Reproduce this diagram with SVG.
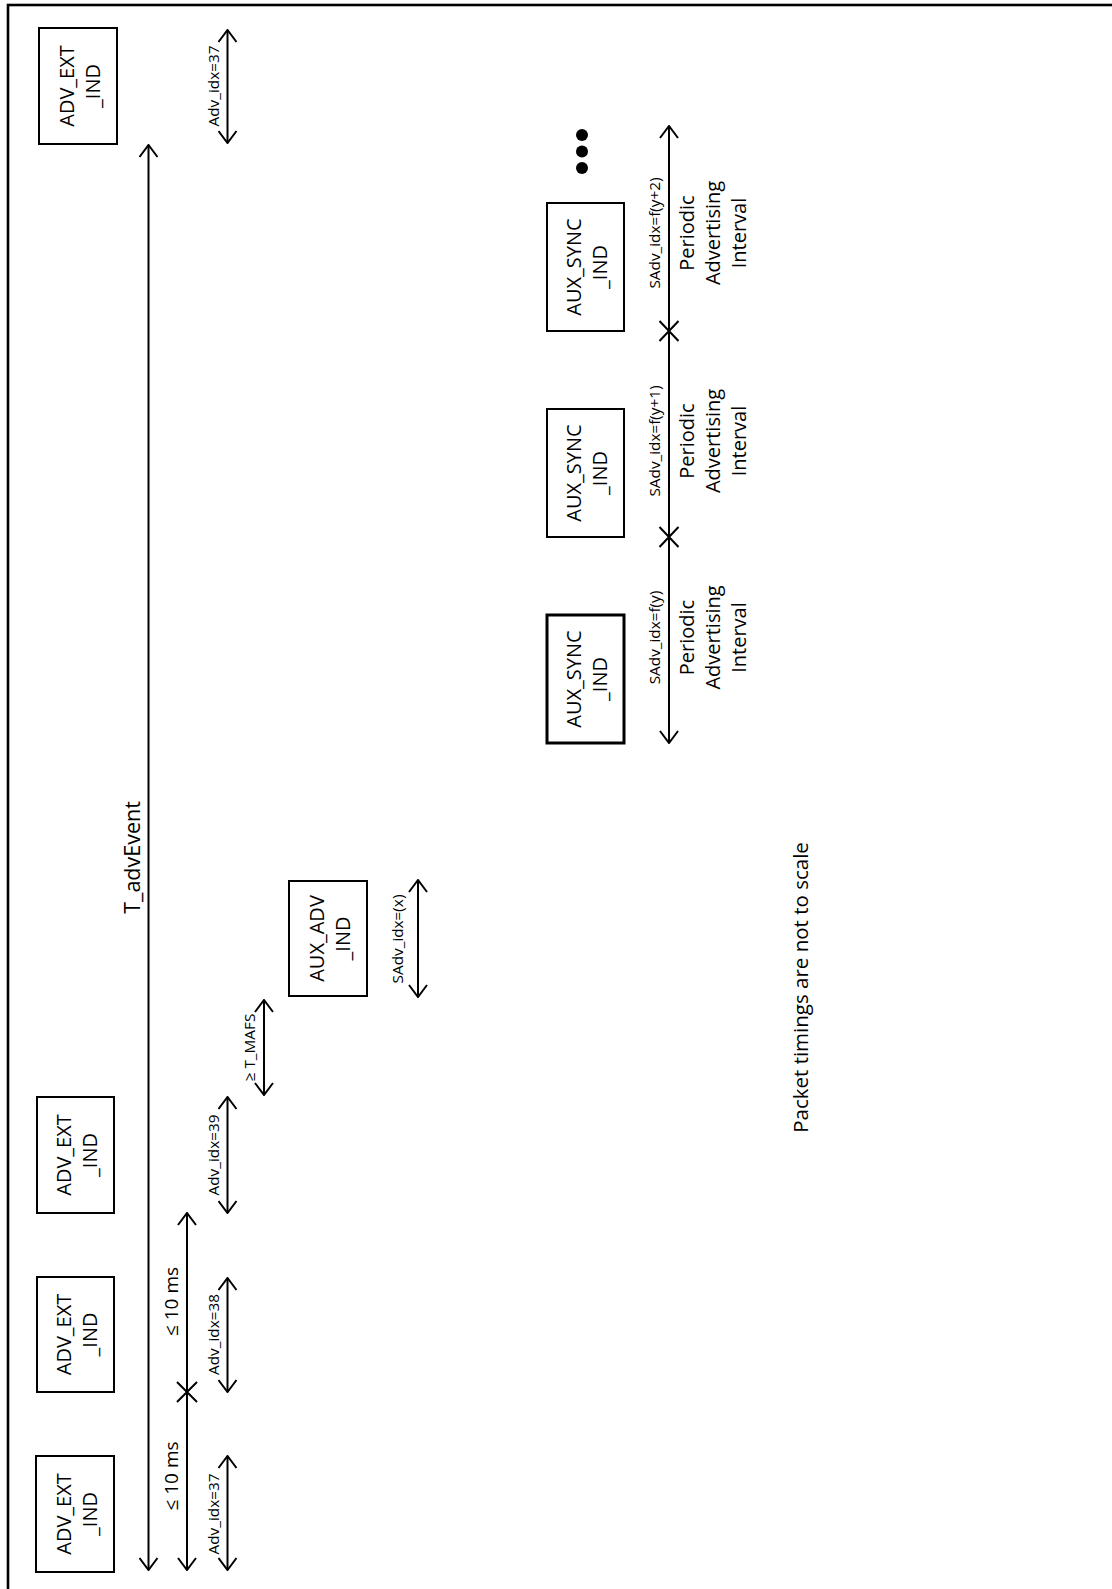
<svg xmlns="http://www.w3.org/2000/svg" width="1112" height="1589" viewBox="0 0 1112 1589">
<style>
.frame{fill:none;stroke:#000;stroke-width:2.6}
.box{fill:#fff;stroke:#000;stroke-width:2}
.boxb{fill:#fff;stroke:#000;stroke-width:3}
.ln{fill:none;stroke:#000;stroke-width:2}
.t{font-family:"Open Sans","Liberation Sans",sans-serif;fill:#000;text-anchor:middle}
.bt{font-size:20px}
.big{font-size:21.5px}
.mid{font-size:19px}
.sm{font-size:15.3px}
.note{font-size:20.5px}
</style>
<defs>
<marker id="arr" viewBox="0 0 14 20" refX="13" refY="10" markerWidth="14" markerHeight="20" orient="auto-start-reverse" markerUnits="userSpaceOnUse">
<path d="M1,1 L13,10 L1,19" fill="none" stroke="#000" stroke-width="2"/>
</marker>
</defs>
<rect width="1112" height="1589" fill="#fff"/>
<rect class="frame" x="8" y="5" width="1300" height="1700"/>

<g id="adv_ext_ind_1">
<rect class="box" x="36" y="1456" width="78" height="116"/>
<g class="t bt" transform="translate(75,1514) rotate(-90)"><text y="-4.5">ADV_EXT</text><text y="21.5">_IND</text></g>
</g>
<g id="adv_ext_ind_2">
<rect class="box" x="37" y="1277" width="77" height="115"/>
<g class="t bt" transform="translate(75.5,1334.5) rotate(-90)"><text y="-4.5">ADV_EXT</text><text y="21.5">_IND</text></g>
</g>
<g id="adv_ext_ind_3">
<rect class="box" x="37" y="1097" width="77" height="116"/>
<g class="t bt" transform="translate(75.5,1155) rotate(-90)"><text y="-4.5">ADV_EXT</text><text y="21.5">_IND</text></g>
</g>
<g id="adv_ext_ind_4">
<rect class="box" x="39" y="28" width="78" height="116"/>
<g class="t bt" transform="translate(78,86) rotate(-90)"><text y="-4.5">ADV_EXT</text><text y="21.5">_IND</text></g>
</g>
<g id="aux_adv_ind">
<rect class="box" x="289" y="881" width="78" height="115"/>
<g class="t bt" transform="translate(328,938.5) rotate(-90)"><text y="-4.5">AUX_ADV</text><text y="21.5">_IND</text></g>
</g>
<g id="aux_sync_ind_1">
<rect class="boxb" x="547" y="615" width="77" height="128"/>
<g class="t bt" transform="translate(585.5,679) rotate(-90)"><text y="-4.5">AUX_SYNC</text><text y="21.5">_IND</text></g>
</g>
<g id="aux_sync_ind_2">
<rect class="box" x="547" y="409" width="77" height="128"/>
<g class="t bt" transform="translate(585.5,473) rotate(-90)"><text y="-4.5">AUX_SYNC</text><text y="21.5">_IND</text></g>
</g>
<g id="aux_sync_ind_3">
<rect class="box" x="547" y="203" width="77" height="128"/>
<g class="t bt" transform="translate(585.5,267) rotate(-90)"><text y="-4.5">AUX_SYNC</text><text y="21.5">_IND</text></g>
</g>
<g id="more_dots">
<circle cx="582" cy="135" r="6"/>
<circle cx="582" cy="151.5" r="6"/>
<circle cx="582" cy="168" r="6"/>
</g>

<g id="connectors">
<line class="ln" x1="148.5" y1="1570" x2="148.5" y2="145" marker-start="url(#arr)" marker-end="url(#arr)"/>
<line class="ln" x1="187" y1="1570" x2="187" y2="1213" marker-start="url(#arr)" marker-end="url(#arr)"/>
<path class="ln" d="M177,1382 L197,1402 M197,1382 L177,1402"/>
<line class="ln" x1="227.5" y1="1570" x2="227.5" y2="1456" marker-start="url(#arr)" marker-end="url(#arr)"/>
<line class="ln" x1="227.5" y1="1392" x2="227.5" y2="1278" marker-start="url(#arr)" marker-end="url(#arr)"/>
<line class="ln" x1="227.5" y1="1213" x2="227.5" y2="1097" marker-start="url(#arr)" marker-end="url(#arr)"/>
<line class="ln" x1="227.5" y1="143" x2="227.5" y2="30" marker-start="url(#arr)" marker-end="url(#arr)"/>
<line class="ln" x1="264" y1="1095" x2="264" y2="1000" marker-start="url(#arr)" marker-end="url(#arr)"/>
<line class="ln" x1="418" y1="997" x2="418" y2="880" marker-start="url(#arr)" marker-end="url(#arr)"/>
<line class="ln" x1="669" y1="743" x2="669" y2="126" marker-start="url(#arr)" marker-end="url(#arr)"/>
<path class="ln" d="M659.5,527 L678.5,547 M678.5,527 L659.5,547"/>
<path class="ln" d="M659.5,321 L678.5,341 M678.5,321 L659.5,341"/>
</g>

<g id="labels">
<text class="t big" transform="translate(140,857.5) rotate(-90)">T_advEvent</text>
<text class="t mid" transform="translate(178,1476) rotate(-90)">≤ 10 ms</text>
<text class="t mid" transform="translate(178,1301.5) rotate(-90)">≤ 10 ms</text>
<text class="t sm" transform="translate(219,1514) rotate(-90)">Adv_idx=37</text>
<text class="t sm" transform="translate(219,1334.5) rotate(-90)">Adv_idx=38</text>
<text class="t sm" transform="translate(219,1155) rotate(-90)">Adv_idx=39</text>
<text class="t sm" transform="translate(219,86) rotate(-90)">Adv_idx=37</text>
<text class="t sm" transform="translate(255,1047.5) rotate(-90)">≥ T_MAFS</text>
<text class="t sm" transform="translate(403,939) rotate(-90)">SAdv_idx=(x)</text>
<g class="t" transform="translate(669,637.5) rotate(-90)">
<text class="sm" y="-9">SAdv_idx=f(y)</text>
<text class="bt" y="25">Periodic</text>
<text class="bt" y="51">Advertising</text>
<text class="bt" y="77">Interval</text>
</g>
<g class="t" transform="translate(669,441) rotate(-90)">
<text class="sm" y="-9">SAdv_idx=f(y+1)</text>
<text class="bt" y="25">Periodic</text>
<text class="bt" y="51">Advertising</text>
<text class="bt" y="77">Interval</text>
</g>
<g class="t" transform="translate(669,233) rotate(-90)">
<text class="sm" y="-9">SAdv_idx=f(y+2)</text>
<text class="bt" y="25">Periodic</text>
<text class="bt" y="51">Advertising</text>
<text class="bt" y="77">Interval</text>
</g>
<text class="t note" transform="translate(808,987.5) rotate(-90)">Packet timings are not to scale</text>
</g>
</svg>
